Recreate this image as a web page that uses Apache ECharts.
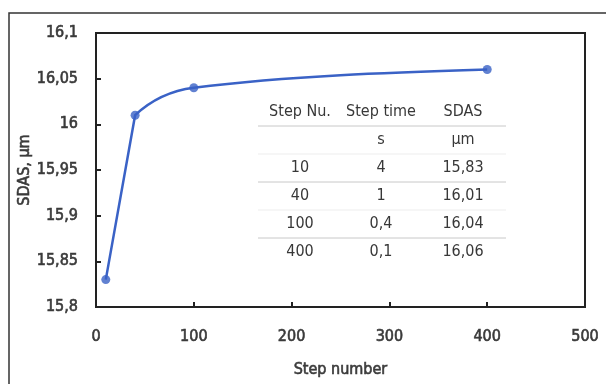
<!DOCTYPE html>
<html>
<head>
<meta charset="utf-8">
<script src="https://cdn.jsdelivr.net/npm/echarts@6/dist/echarts.min.js"></script>
<style>
  html, body { margin: 0; padding: 0; background: #fff; }
  #chart { width: 606px; height: 384px; }
</style>
</head>
<body>
<div id="chart"></div>
<script>
// Measured SDAS versus step number
const stepNumbers = [10, 40, 100, 400];
const sdasValues = [15.83, 16.01, 16.04, 16.06];

// Table contents
const tableHeader = ['Step Nu.', 'Step time', 'SDAS'];
const tableUnits = ['', 's', 'µm'];
const stepTimes = ['4', '1', '0,4', '0,1'];

// Axis settings
const xTicks = { min: 0, max: 500, interval: 100 };
const yTicks = { min: 15.8, max: 16.1, interval: 0.05 };

const axisFont = "'DejaVu Sans Condensed', sans-serif";
const tableFont = "'DejaVu Sans Condensed', sans-serif";
const comma = v => String(v).replace('.', ',');
const LINE_COLOR = '#3a62c6';
const AXIS_TEXT = '#3a3a3a';

// Slightly heavier axis text: thin outline in the text colour
const axisText = { fontFamily: axisFont, fontSize: 16, color: AXIS_TEXT,
                   textBorderColor: AXIS_TEXT, textBorderWidth: 0.6 };

const chart = echarts.init(document.getElementById('chart'), null, { renderer: 'canvas' });

// Cubic path through pixel points: first segment straight into the second
// point, the rest with monotone (x) tangents
function curvePath(pts) {
  const n = pts.length;
  const sign = v => (v < 0 ? -1 : v > 0 ? 1 : 0);
  const secant = [];
  for (let i = 0; i < n - 1; i++) {
    secant.push((pts[i + 1][1] - pts[i][1]) / (pts[i + 1][0] - pts[i][0]));
  }
  const t = new Array(n);
  for (let i = 1; i < n - 1; i++) {
    const h0 = pts[i][0] - pts[i - 1][0], h1 = pts[i + 1][0] - pts[i][0];
    const s0 = secant[i - 1], s1 = secant[i];
    const p = (s0 * h1 + s1 * h0) / (h0 + h1);
    t[i] = (sign(s0) + sign(s1)) * Math.min(Math.abs(s0), Math.abs(s1), 0.5 * Math.abs(p)) || 0;
  }
  t[0] = secant[0];
  t[n - 1] = (3 * secant[n - 2] - t[n - 2]) / 2;
  let d = 'M' + pts[0][0] + ',' + pts[0][1];
  for (let i = 0; i < n - 1; i++) {
    const dx = (pts[i + 1][0] - pts[i][0]) / 3;
    const tIn = i === 0 ? secant[0] : t[i + 1];
    d += ' C' + (pts[i][0] + dx) + ',' + (pts[i][1] + dx * t[i]) + ' ' +
         (pts[i + 1][0] - dx) + ',' + (pts[i + 1][1] - dx * tIn) + ' ' +
         pts[i + 1][0] + ',' + pts[i + 1][1];
  }
  return d;
}

// Table built as graphic text rows
const colX = [300, 381, 463];
const rowY0 = 112, rowH = 28;
const rows = [tableHeader, tableUnits].concat(
  stepNumbers.map((n, i) => [String(n), stepTimes[i], comma(sdasValues[i])])
);
const graphics = [];
rows.forEach((r, ri) => {
  r.forEach((txt, ci) => {
    if (!txt) return;
    graphics.push({
      type: 'text', x: colX[ci], y: rowY0 + ri * rowH,
      style: { text: txt, fill: '#383838', font: '16px ' + tableFont,
               textAlign: 'center', textVerticalAlign: 'middle' },
      z: 10
    });
  });
});
const ruleOpacity = [1, 0.35, 1, 0.35, 1];
ruleOpacity.forEach((op, i) => {
  const y = rowY0 + rowH / 2 + i * rowH;
  graphics.push({
    type: 'line', shape: { x1: 258, y1: y, x2: 506, y2: y },
    style: { stroke: '#c8c8c8', lineWidth: 1, opacity: op }, z: 5
  });
});

// Outer frame
graphics.push({
  type: 'polyline',
  shape: { points: [[9, 384], [9, 13], [606, 13]] },
  style: { stroke: '#333', lineWidth: 1.5, fill: null }
});

const points = stepNumbers.map((x, i) => [x, sdasValues[i]]);

chart.setOption({
  animation: false,
  backgroundColor: '#ffffff',
  grid: {
    left: 96, right: 21, top: 33, bottom: 77,
    containLabel: false, outerBoundsMode: 'none',
    show: true, borderColor: '#222', borderWidth: 2, backgroundColor: 'transparent'
  },
  xAxis: {
    type: 'value', min: xTicks.min, max: xTicks.max, interval: xTicks.interval,
    name: 'Step number', nameLocation: 'middle', nameGap: 55, nameMoveOverlap: false,
    nameTextStyle: axisText,
    axisLine: { show: true, lineStyle: { color: '#222', width: 2 } },
    axisTick: { show: true, inside: true, length: 5, lineStyle: { color: '#222', width: 2 } },
    axisLabel: Object.assign({ margin: 22, showMinLabel: true, showMaxLabel: true }, axisText),
    splitLine: { show: false }
  },
  yAxis: {
    type: 'value', min: yTicks.min, max: yTicks.max, interval: yTicks.interval,
    name: 'SDAS, µm', nameLocation: 'middle', nameGap: 63, nameMoveOverlap: false,
    nameTextStyle: axisText,
    axisLine: { show: true, lineStyle: { color: '#222', width: 2 } },
    axisTick: { show: true, inside: true, length: 5, lineStyle: { color: '#222', width: 2 } },
    axisLabel: Object.assign({ margin: 18, formatter: v => comma(Math.round(v * 100) / 100) }, axisText),
    splitLine: { show: false }
  },
  series: [
    {
      // smooth curve through the measured points
      type: 'custom',
      data: points,
      renderItem: (params, api) => {
        if (params.dataIndex !== 0) return null;
        const px = points.map(p => api.coord(p));
        return {
          type: 'path',
          shape: { pathData: curvePath(px) },
          style: { stroke: LINE_COLOR, lineWidth: 2.5, fill: null }
        };
      },
      z: 2
    },
    {
      type: 'scatter',
      data: points,
      symbol: 'circle', symbolSize: 9,
      itemStyle: { color: LINE_COLOR },
      z: 3
    }
  ],
  graphic: graphics
});
</script>
</body>
</html>
